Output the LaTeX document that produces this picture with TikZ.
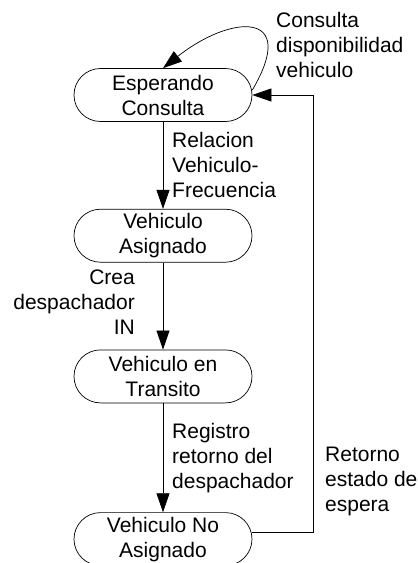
\documentclass[tikz,border=0pt]{standalone}
\usepackage{fontspec}
\setmainfont{Liberation Sans}
\usetikzlibrary{positioning,arrows.meta}

\begin{document}
\begin{tikzpicture}[estado/.style = {draw, rectangle, rounded corners=26.5pt, fill=white, line width=0.7pt, minimum width=178pt, minimum height=53pt, inner sep=0pt, align=center, font=\fontsize{21pt}{25pt}\selectfont},
                    etiqueta/.style = {inner sep=0pt, font=\fontsize{21pt}{25pt}\selectfont},
                    flecha/.style = {-{Triangle[length=19pt, width=13pt]}, line width=0.7pt},
                    node distance={87pt}]
    \useasboundingbox (0,0) rectangle (418pt,-563pt);
        \node[estado] (espera) at (163pt,-95pt) {Esperando\\Consulta};
        \node[estado] (asignado) [below=of espera] {Vehiculo\\Asignado};
        \node[estado] (transito) [below=of asignado] {Vehiculo en\\Transito};
        \node[estado] (noasignado) [below=109pt of transito] {Vehiculo No\\Asignado};
        \node[etiqueta, anchor=north west, align=left] (consulta) at (276pt,-11.7pt) {Consulta\\disponibilidad\\vehiculo};
        \node[etiqueta, anchor=north west, align=left] (relacion) at (172pt,-131.7pt) {Relacion\\Vehiculo-\\Frecuencia};
        \node[etiqueta, anchor=north east, align=right] (crea) at (135pt,-269.7pt) {Crea\\despachador\\IN};
        \node[etiqueta, anchor=north west, align=left] (registro) at (172pt,-422.7pt) {Registro\\retorno del\\despachador};
        \node[etiqueta, anchor=north west, align=left] (retorno) at (325pt,-446.7pt) {Retorno\\estado de\\espera};
        \draw[flecha] ([yshift=5pt]espera.east) .. controls +(47pt,80pt) and +(68pt,54pt) .. (espera.north);
        \draw[flecha] (espera) -- (asignado);
        \draw[flecha] (asignado) -- (transito);
        \draw[flecha] (transito) -- (noasignado);
        \draw[flecha] ([yshift=7pt]noasignado.east) -- ++(61pt,0) |- (espera.east);
    \end{tikzpicture}
\end{document}
